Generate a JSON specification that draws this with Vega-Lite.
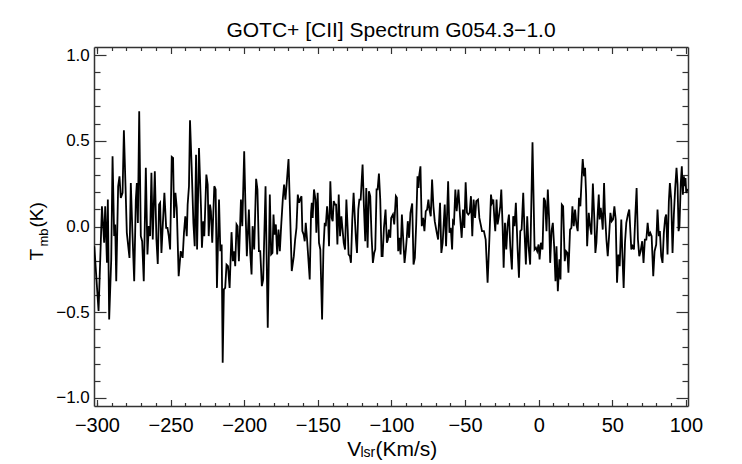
{
  "$schema": "https://vega.github.io/schema/vega-lite/v6.json",
  "width": 594,
  "height": 359,
  "autosize": "none",
  "padding": {"left": 94, "top": 47, "right": 54, "bottom": 58},
  "background": "white",
  "title": {"text": "GOTC+ [CII] Spectrum G054.3−1.0", "font": "Liberation Sans", "fontSize": 21, "fontWeight": "normal", "color": "black", "anchor": "middle", "frame": "group", "baseline": "alphabetic", "offset": 8, "dy": 20},
  "config": {
    "view": {"stroke": null},
    "axis": {"grid": false, "domainColor": "#333", "domainWidth": 1.5, "tickColor": "#333", "tickWidth": 1.2, "labelFont": "Liberation Sans", "titleFont": "Liberation Sans", "labelColor": "black", "titleColor": "black", "titleFontWeight": "normal", "labelFlush": false, "labelOverlap": false}
  },
  "data": {"values": [
    {"v":-301.8,"t":-0.115},{"v":-298.9,"t":-0.493},{"v":-296.6,"t":0.118},{"v":-295.1,"t":-0.095},{"v":-294.4,"t":0.118},{"v":-293.2,"t":-0.212},{"v":-292.6,"t":0.157},{"v":-291.7,"t":-0.542},{"v":-290.3,"t":-0.192},{"v":-289.4,"t":0.41},{"v":-288.3,"t":-0.056},{"v":-287.6,"t":0.012},{"v":-286.9,"t":-0.319},{"v":-285.6,"t":0.235},{"v":-284.7,"t":0.293},{"v":-283.8,"t":0.167},{"v":-282.6,"t":0.196},{"v":-281.7,"t":0.561},{"v":-280.6,"t":0.235},{"v":-279.7,"t":-0.037},{"v":-277.9,"t":-0.183},{"v":-277.0,"t":0.254},{"v":-275.9,"t":-0.037},{"v":-274.7,"t":-0.319},{"v":-273.6,"t":0.157},{"v":-272.9,"t":0.254},{"v":-272.2,"t":0.021},{"v":-271.3,"t":0.672},{"v":-270.2,"t":-0.056},{"v":-269.3,"t":-0.086},{"v":-268.2,"t":-0.319},{"v":-266.8,"t":0.342},{"v":-265.7,"t":-0.163},{"v":-264.8,"t":0.002},{"v":-263.9,"t":-0.056},{"v":-263.0,"t":0.313},{"v":-262.1,"t":-0.076},{"v":-260.7,"t":0.322},{"v":-259.6,"t":-0.076},{"v":-258.7,"t":-0.218},{"v":-257.8,"t":0.128},{"v":-257.1,"t":0.138},{"v":-256.2,"t":-0.154},{"v":-255.1,"t":0.041},{"v":-254.2,"t":0.196},{"v":-253.0,"t":-0.008},{"v":-252.1,"t":-0.008},{"v":-251.2,"t":-0.056},{"v":-250.3,"t":-0.134},{"v":-249.2,"t":0.406},{"v":-248.3,"t":0.4},{"v":-247.6,"t":0.05},{"v":-246.7,"t":0.196},{"v":-245.8,"t":0.109},{"v":-244.5,"t":-0.29},{"v":-243.1,"t":-0.144},{"v":-241.8,"t":-0.183},{"v":-240.9,"t":-0.037},{"v":-240.0,"t":0.06},{"v":-239.0,"t":-0.056},{"v":-238.4,"t":0.128},{"v":-237.5,"t":0.235},{"v":-236.8,"t":0.62},{"v":-235.7,"t":0.351},{"v":-234.5,"t":0.021},{"v":-233.6,"t":-0.115},
    {"v":-232.7,"t":0.419},{"v":-232.0,"t":-0.134},{"v":-230.7,"t":0.458},{"v":-229.3,"t":0.099},{"v":-228.7,"t":-0.124},{"v":-227.8,"t":0.031},{"v":-227.1,"t":-0.056},{"v":-225.7,"t":0.303},{"v":-224.8,"t":0.245},{"v":-224.1,"t":-0.056},{"v":-223.2,"t":0.128},{"v":-222.6,"t":0.089},{"v":-221.7,"t":-0.095},{"v":-220.3,"t":0.235},{"v":-219.4,"t":0.216},{"v":-218.5,"t":-0.358},{"v":-217.1,"t":0.157},{"v":-216.2,"t":-0.144},{"v":-215.3,"t":-0.105},{"v":-214.6,"t":-0.795},{"v":-213.8,"t":-0.367},{"v":-212.9,"t":-0.358},{"v":-212.0,"t":-0.222},{"v":-211.0,"t":-0.231},{"v":-209.9,"t":-0.358},{"v":-208.6,"t":-0.033},{"v":-207.7,"t":-0.202},{"v":-206.8,"t":-0.144},{"v":-206.1,"t":-0.231},{"v":-205.2,"t":0.012},{"v":-204.5,"t":0.002},{"v":-203.6,"t":-0.202},{"v":-202.2,"t":0.157},{"v":-201.3,"t":0.002},{"v":-200.0,"t":0.439},{"v":-199.1,"t":0.099},{"v":-198.2,"t":-0.173},{"v":-196.8,"t":0.099},{"v":-195.9,"t":-0.154},{"v":-195.0,"t":-0.28},{"v":-194.3,"t":0.002},{"v":-193.2,"t":-0.134},{"v":-191.9,"t":0.278},{"v":-191.0,"t":0.216},{"v":-190.0,"t":-0.144},{"v":-189.1,"t":-0.144},{"v":-188.0,"t":-0.348},{"v":-187.1,"t":-0.309},{"v":-185.5,"t":0.235},{"v":-184.0,"t":-0.591},{"v":-182.6,"t":0.186},{"v":-181.7,"t":-0.163},{"v":-180.8,"t":-0.154},{"v":-180.1,"t":0.07},{"v":-179.4,"t":-0.047},{"v":-178.5,"t":0.012},{"v":-177.6,"t":-0.163},{"v":-176.7,"t":-0.018},{"v":-175.8,"t":-0.144},{"v":-174.9,"t":0.002},{"v":-173.8,"t":0.157},{"v":-172.9,"t":0.245},{"v":-172.0,"t":0.157},{"v":-171.1,"t":0.254},{"v":-169.9,"t":0.394},{"v":-167.7,"t":-0.26},
    {"v":-166.3,"t":-0.173},{"v":-165.4,"t":-0.076},{"v":-164.5,"t":-0.008},{"v":-163.6,"t":0.186},{"v":-162.7,"t":0.138},{"v":-162.0,"t":0.157},{"v":-161.1,"t":0.177},{"v":-160.5,"t":-0.027},{"v":-159.6,"t":-0.047},{"v":-158.9,"t":-0.086},{"v":-158.2,"t":0.021},{"v":-157.3,"t":-0.076},{"v":-156.4,"t":-0.192},{"v":-155.5,"t":-0.309},{"v":-154.6,"t":0.08},{"v":-154.1,"t":0.138},{"v":-153.5,"t":0.05},{"v":-152.6,"t":0.216},{"v":-151.6,"t":0.157},{"v":-151.0,"t":-0.037},{"v":-150.1,"t":0.196},{"v":-149.2,"t":-0.095},{"v":-148.3,"t":-0.134},{"v":-147.1,"t":-0.542},{"v":-146.2,"t":-0.134},{"v":-145.3,"t":0.021},{"v":-144.6,"t":0.002},{"v":-143.7,"t":0.118},{"v":-143.0,"t":0.041},{"v":-142.4,"t":-0.115},{"v":-141.5,"t":0.264},{"v":-140.6,"t":0.05},{"v":-139.9,"t":0.031},{"v":-139.2,"t":0.148},{"v":-138.3,"t":0.128},{"v":-137.6,"t":0.128},{"v":-136.7,"t":-0.105},{"v":-135.8,"t":0.186},{"v":-134.9,"t":-0.056},{"v":-134.0,"t":0.06},{"v":-133.3,"t":-0.008},{"v":-132.4,"t":-0.095},{"v":-131.5,"t":-0.134},{"v":-130.6,"t":0.157},{"v":-129.7,"t":-0.018},{"v":-129.1,"t":-0.163},{"v":-128.2,"t":-0.173},{"v":-127.5,"t":-0.212},{"v":-126.6,"t":0.041},{"v":-125.7,"t":0.196},{"v":-124.8,"t":0.041},{"v":-124.1,"t":-0.076},{"v":-123.4,"t":-0.154},{"v":-122.5,"t":0.099},{"v":-121.8,"t":0.157},{"v":-120.9,"t":0.157},{"v":-119.6,"t":0.361},{"v":-118.7,"t":0.118},{"v":-117.8,"t":-0.086},{"v":-117.1,"t":0.225},{"v":-116.2,"t":-0.124},{"v":-115.3,"t":0.206},{"v":-114.4,"t":0.177},{"v":-113.5,"t":-0.056},{"v":-112.6,"t":-0.212},{"v":-111.7,"t":-0.154},{"v":-111.0,"t":-0.134},{"v":-110.1,"t":0.216},{"v":-109.4,"t":0.216},{"v":-108.5,"t":0.309},{"v":-107.6,"t":0.157},{"v":-106.7,"t":-0.173},{"v":-106.0,"t":-0.173},{"v":-105.1,"t":-0.008},{"v":-104.0,"t":0.099},{"v":-103.1,"t":-0.095},{"v":-102.4,"t":-0.076},{"v":-101.7,"t":-0.018},{"v":-100.8,"t":-0.066},{"v":-100.2,"t":0.05},{"v":-99.0,"t":0.07},{"v":-98.1,"t":0.012},
    {"v":-97.0,"t":0.177},{"v":-96.3,"t":0.167},{"v":-95.4,"t":-0.144},{"v":-94.7,"t":-0.066},{"v":-93.8,"t":-0.163},{"v":-92.9,"t":0.07},{"v":-92.0,"t":-0.076},{"v":-91.1,"t":-0.212},{"v":-90.2,"t":-0.134},{"v":-89.5,"t":-0.056},{"v":-88.9,"t":0.031},{"v":-88.0,"t":-0.066},{"v":-87.1,"t":0.08},{"v":-85.9,"t":0.134},{"v":-85.0,"t":-0.222},{"v":-84.1,"t":-0.183},{"v":-83.2,"t":0.012},{"v":-82.3,"t":0.293},{"v":-81.6,"t":0.225},{"v":-81.2,"t":0.293},{"v":-80.3,"t":0.351},{"v":-79.4,"t":0.002},{"v":-78.5,"t":0.05},{"v":-77.6,"t":-0.027},{"v":-76.7,"t":0.089},{"v":-75.8,"t":0.099},{"v":-74.9,"t":0.157},{"v":-74.2,"t":0.099},{"v":-73.3,"t":0.06},{"v":-72.4,"t":0.274},{"v":-71.5,"t":0.118},{"v":-70.6,"t":0.031},{"v":-69.2,"t":-0.037},{"v":-68.3,"t":-0.076},{"v":-67.0,"t":0.138},{"v":-66.1,"t":-0.154},{"v":-65.2,"t":-0.095},{"v":-63.8,"t":0.128},{"v":-62.9,"t":-0.115},{"v":-61.5,"t":0.264},{"v":-60.6,"t":-0.037},{"v":-59.7,"t":-0.008},{"v":-58.8,"t":-0.134},{"v":-58.2,"t":0.031},{"v":-57.5,"t":0.021},{"v":-56.6,"t":0.216},{"v":-55.7,"t":0.089},{"v":-54.5,"t":0.216},{"v":-53.4,"t":0.06},{"v":-52.3,"t":-0.066},{"v":-51.4,"t":0.099},{"v":-50.5,"t":-0.008},{"v":-49.6,"t":0.258},{"v":-48.7,"t":0.08},{"v":-47.8,"t":0.07},{"v":-46.9,"t":0.08},{"v":-46.0,"t":0.177},{"v":-45.1,"t":-0.056},{"v":-44.2,"t":0.157},{"v":-43.2,"t":0.05},{"v":-42.4,"t":0.148},{"v":-41.2,"t":0.157},{"v":-40.3,"t":0.05},{"v":-39.4,"t":0.012},{"v":-38.5,"t":-0.027},{"v":-37.2,"t":-0.027},{"v":-36.0,"t":-0.076},{"v":-34.7,"t":-0.328},{"v":-33.5,"t":-0.076},{"v":-32.4,"t":0.186},{"v":-31.7,"t":0.138},{"v":-30.8,"t":0.157},
    {"v":-30.2,"t":0.06},{"v":-29.5,"t":-0.027},{"v":-28.6,"t":0.157},{"v":-27.9,"t":0.012},{"v":-27.0,"t":0.06},{"v":-26.1,"t":0.118},{"v":-25.4,"t":0.216},{"v":-24.5,"t":0.002},{"v":-23.8,"t":-0.241},{"v":-22.9,"t":0.021},{"v":-22.0,"t":-0.134},{"v":-21.1,"t":0.012},{"v":-20.2,"t":0.07},{"v":-19.3,"t":-0.115},{"v":-18.2,"t":-0.251},{"v":-17.3,"t":0.06},{"v":-16.4,"t":0.002},{"v":-15.5,"t":0.138},{"v":-14.3,"t":-0.134},{"v":-13.4,"t":-0.299},{"v":-12.5,"t":-0.027},{"v":-11.6,"t":-0.018},{"v":-10.5,"t":0.196},{"v":-9.6,"t":-0.037},{"v":-8.7,"t":-0.222},{"v":-7.8,"t":0.06},{"v":-6.9,"t":-0.115},{"v":-5.8,"t":-0.222},{"v":-4.2,"t":0.491},{"v":-2.8,"t":-0.134},{"v":-1.9,"t":-0.124},{"v":-1.0,"t":-0.144},{"v":-0.1,"t":-0.105},{"v":0.6,"t":-0.192},{"v":1.5,"t":-0.095},{"v":2.6,"t":-0.134},{"v":3.5,"t":0.167},{"v":4.4,"t":0.148},{"v":5.3,"t":-0.027},{"v":6.2,"t":0.216},{"v":7.1,"t":0.041},{"v":7.8,"t":-0.212},{"v":8.7,"t":-0.027},{"v":9.6,"t":0.021},{"v":10.5,"t":-0.115},{"v":11.4,"t":-0.319},{"v":12.1,"t":-0.115},{"v":13.0,"t":-0.377},{"v":14.1,"t":-0.192},{"v":14.8,"t":-0.309},{"v":15.7,"t":0.128},{"v":16.6,"t":0.118},{"v":17.7,"t":-0.202},{"v":18.6,"t":-0.144},{"v":19.5,"t":-0.154},{"v":20.2,"t":-0.27},{"v":21.3,"t":-0.018},{"v":22.2,"t":-0.008},{"v":22.9,"t":0.118},{"v":23.8,"t":0.002},{"v":24.7,"t":0.099},{"v":25.6,"t":0.012},{"v":26.5,"t":-0.027},{"v":27.4,"t":0.167},{"v":28.3,"t":0.118},{"v":29.2,"t":0.283},{"v":29.9,"t":0.394},{"v":30.8,"t":0.293},{"v":31.5,"t":0.342},{"v":32.2,"t":0.186},{"v":32.9,"t":-0.115},{"v":34.0,"t":0.08},{"v":34.9,"t":0.002},{"v":35.8,"t":-0.047},{"v":36.8,"t":0.25},
    {"v":37.8,"t":0.041},{"v":38.5,"t":-0.154},{"v":39.2,"t":-0.095},{"v":40.1,"t":0.08},{"v":40.8,"t":0.186},{"v":41.4,"t":0.041},{"v":42.1,"t":0.109},{"v":42.8,"t":0.06},{"v":43.5,"t":-0.018},{"v":44.4,"t":0.254},{"v":45.0,"t":0.08},{"v":46.0,"t":-0.076},{"v":46.9,"t":-0.173},{"v":47.8,"t":-0.056},{"v":48.7,"t":0.08},{"v":49.6,"t":0.031},{"v":50.5,"t":0.041},{"v":51.4,"t":0.118},{"v":52.3,"t":0.041},{"v":53.2,"t":-0.328},{"v":54.1,"t":-0.163},{"v":55.0,"t":-0.231},{"v":56.1,"t":0.041},{"v":56.8,"t":-0.154},{"v":57.7,"t":-0.358},{"v":58.6,"t":-0.095},{"v":59.5,"t":0.021},{"v":60.6,"t":0.07},{"v":61.5,"t":0.099},{"v":62.2,"t":-0.018},{"v":62.9,"t":-0.134},{"v":63.8,"t":-0.115},{"v":64.7,"t":-0.134},{"v":65.6,"t":0.06},{"v":66.5,"t":0.225},{"v":67.4,"t":-0.076},{"v":68.3,"t":-0.173},{"v":69.2,"t":-0.144},{"v":70.3,"t":-0.086},{"v":71.2,"t":-0.212},{"v":72.1,"t":-0.076},{"v":73.1,"t":-0.076},{"v":74.0,"t":0.021},{"v":74.9,"t":-0.056},{"v":75.8,"t":-0.037},{"v":76.7,"t":-0.056},{"v":77.8,"t":-0.29},{"v":78.7,"t":-0.144},{"v":79.8,"t":-0.105},{"v":80.7,"t":0.099},{"v":81.6,"t":-0.056},{"v":82.3,"t":-0.027},{"v":83.2,"t":-0.173},{"v":84.1,"t":-0.212},{"v":85.0,"t":-0.037},{"v":85.9,"t":0.05},{"v":86.6,"t":0.07},{"v":87.5,"t":-0.163},{"v":88.4,"t":0.148},{"v":89.1,"t":0.254},{"v":90.0,"t":0.157},{"v":90.9,"t":-0.154},{"v":91.8,"t":0.07},{"v":92.7,"t":0.225},{"v":93.6,"t":0.342},{"v":94.3,"t":0.245},{"v":95.0,"t":-0.027},{"v":95.6,"t":0.002},{"v":96.5,"t":0.254},{"v":97.2,"t":0.351},{"v":97.9,"t":0.186},{"v":98.6,"t":0.293},{"v":99.2,"t":0.235},{"v":99.7,"t":0.283},{"v":100.2,"t":0.196},{"v":101.2,"t":0.22}
  ]},
  "resolve": {"axis": {"x": "independent", "y": "independent"}},
  "layer": [
    {
      "mark": {"type": "line", "color": "black", "strokeWidth": 1.8, "clip": true},
      "encoding": {
        "x": {"field": "v", "type": "quantitative", "scale": {"domain": [-302, 101.4], "nice": false, "zero": false},
          "axis": {"orient": "bottom", "values": [-300, -250, -200, -150, -100, -50, 0, 50, 100], "tickSize": -6.5, "labelPadding": 16, "labelFontSize": 20, "format": "d",
            "title": "V", "titleFontSize": 21, "titleX": 252.7, "titleY": 49, "titleAlign": "left", "titleBaseline": "alphabetic"}},
        "y": {"field": "t", "type": "quantitative", "scale": {"domain": [-1.047, 1.047], "nice": false, "zero": false},
          "axis": {"orient": "left", "values": [-1, -0.5, 0, 0.5, 1], "tickSize": -12, "labelPadding": 16.7, "labelFontSize": 17, "format": ".1f",
            "title": "T", "titleFontSize": 19, "titleX": -52, "titleY": 213, "titleAlign": "left", "titleBaseline": "alphabetic", "titleAngle": 270}}
      }
    },
    {
      "mark": {"type": "line", "opacity": 0},
      "encoding": {
        "x": {"field": "v", "type": "quantitative", "scale": {"domain": [-302, 101.4], "nice": false, "zero": false},
          "axis": {"orient": "bottom", "values": [-300, -290, -280, -270, -260, -240, -230, -220, -210, -190, -180, -170, -160, -140, -130, -120, -110, -90, -80, -70, -60, -40, -30, -20, -10, 10, 20, 30, 40, 60, 70, 80, 90], "tickSize": -3.5, "labels": false, "domain": false,
            "title": "lsr", "titleFontSize": 14, "titleX": 266, "titleY": 50, "titleAlign": "left", "titleBaseline": "alphabetic"}},
        "y": {"field": "t", "type": "quantitative", "scale": {"domain": [-1.047, 1.047], "nice": false, "zero": false},
          "axis": {"orient": "left", "values": [-0.9, -0.8, -0.7, -0.6, -0.4, -0.3, -0.2, -0.1, 0.1, 0.2, 0.3, 0.4, 0.6, 0.7, 0.8, 0.9], "tickSize": -6, "labels": false, "domain": false,
            "title": "mb", "titleFontSize": 13, "titleX": -47, "titleY": 199, "titleAlign": "left", "titleBaseline": "alphabetic", "titleAngle": 270}}
      }
    },
    {
      "mark": {"type": "line", "opacity": 0},
      "encoding": {
        "x": {"field": "v", "type": "quantitative", "scale": {"domain": [-302, 101.4], "nice": false, "zero": false},
          "axis": {"orient": "top", "values": [-300, -250, -200, -150, -100, -50, 0, 50, 100], "tickSize": -6.5, "labels": false, "title": null}},
        "y": {"field": "t", "type": "quantitative", "scale": {"domain": [-1.047, 1.047], "nice": false, "zero": false},
          "axis": {"orient": "right", "values": [-1, -0.5, 0, 0.5, 1], "tickSize": -12, "labels": false, "title": null}}
      }
    },
    {
      "mark": {"type": "line", "opacity": 0},
      "encoding": {
        "x": {"field": "v", "type": "quantitative", "scale": {"domain": [-302, 101.4], "nice": false, "zero": false},
          "axis": {"orient": "top", "values": [-300, -290, -280, -270, -260, -240, -230, -220, -210, -190, -180, -170, -160, -140, -130, -120, -110, -90, -80, -70, -60, -40, -30, -20, -10, 10, 20, 30, 40, 60, 70, 80, 90], "tickSize": -3.5, "labels": false, "domain": false, "title": null}},
        "y": {"field": "t", "type": "quantitative", "scale": {"domain": [-1.047, 1.047], "nice": false, "zero": false},
          "axis": {"orient": "right", "values": [-0.9, -0.8, -0.7, -0.6, -0.4, -0.3, -0.2, -0.1, 0.1, 0.2, 0.3, 0.4, 0.6, 0.7, 0.8, 0.9], "tickSize": -6, "labels": false, "domain": false, "title": null}}
      }
    },
    {
      "mark": {"type": "line", "opacity": 0},
      "encoding": {
        "x": {"field": "v", "type": "quantitative", "scale": {"domain": [-302, 101.4], "nice": false, "zero": false},
          "axis": {"orient": "bottom", "ticks": false, "labels": false, "domain": false,
            "title": "(Km/s)", "titleFontSize": 21, "titleX": 281, "titleY": 49, "titleAlign": "left", "titleBaseline": "alphabetic"}},
        "y": {"field": "t", "type": "quantitative", "scale": {"domain": [-1.047, 1.047], "nice": false, "zero": false},
          "axis": {"orient": "left", "ticks": false, "labels": false, "domain": false,
            "title": "(K)", "titleFontSize": 19, "titleX": -52, "titleY": 180, "titleAlign": "left", "titleBaseline": "alphabetic", "titleAngle": 270}}
      }
    }
  ]
}
